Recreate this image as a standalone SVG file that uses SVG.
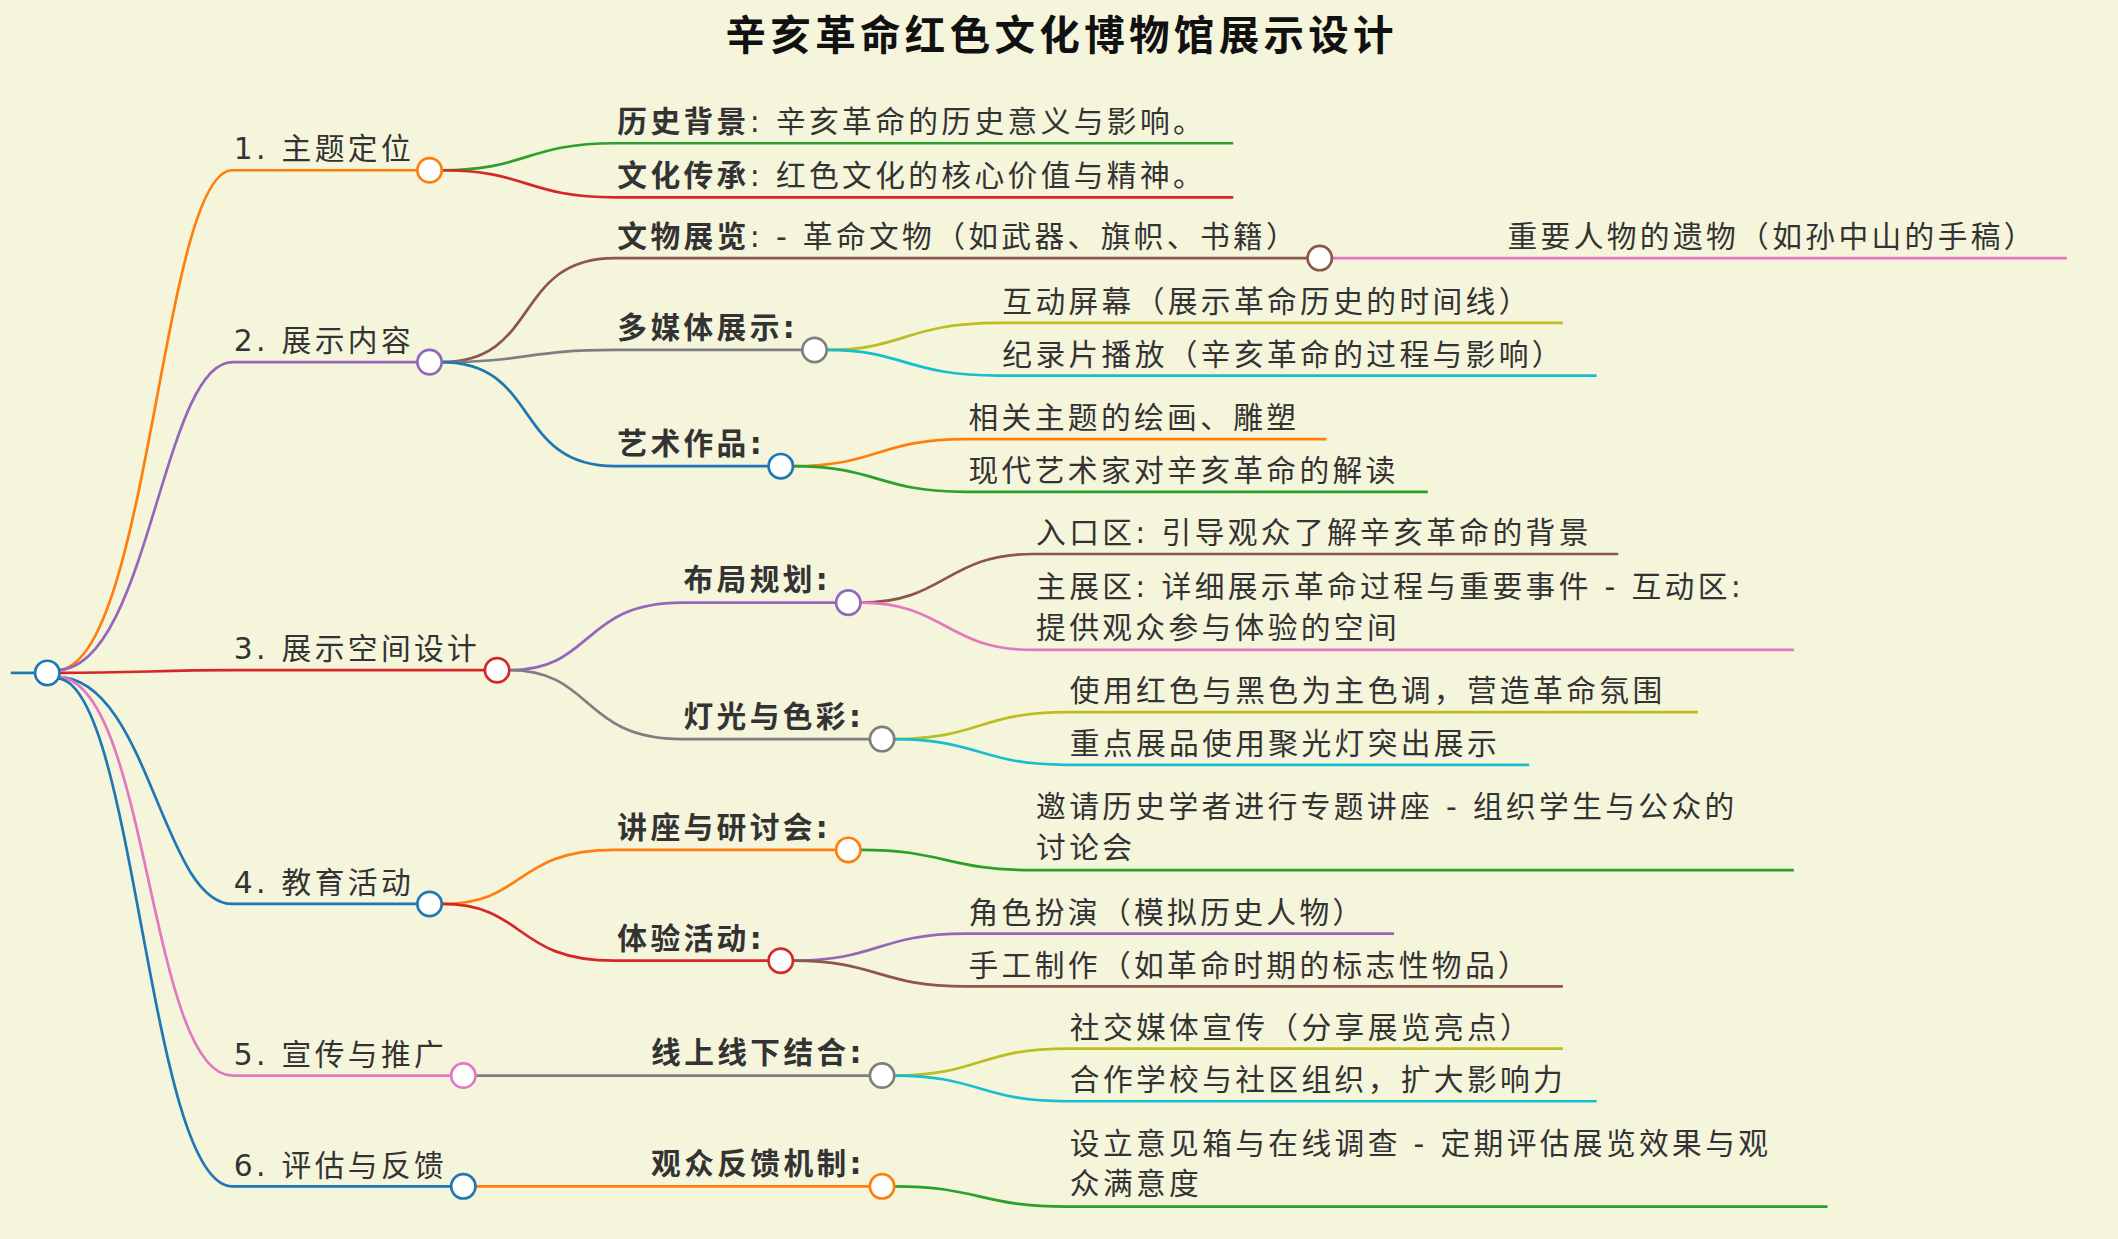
<svg xmlns="http://www.w3.org/2000/svg" width="2118" height="1239" viewBox="0 0 2118 1239">
<style>
text{font-family:"DejaVu Sans","Noto Sans CJK SC",sans-serif;font-size:22px;fill:#333;letter-spacing:2.5px}
.b{font-weight:bold}
.t{font-size:30px;font-weight:bold;fill:#111;letter-spacing:3.2px}
path,line{fill:none;stroke-width:2}
circle{fill:#fff;stroke-width:2}
.o{stroke:#ff7f0e}.p{stroke:#9467bd}.r{stroke:#d62728}.bl{stroke:#1f77b4}.pk{stroke:#e377c2}.g{stroke:#2ca02c}.br{stroke:#8c564b}.gy{stroke:#7f7f7f}.ol{stroke:#bcbd22}.c{stroke:#17becf}
</style>
<rect width="2118" height="1239" fill="#f5f5dc"/>
<g transform="scale(1.3508,1.3512)">
<text class="t" x="786" y="37" text-anchor="middle">辛亥革命红色文化博物馆展示设计</text>
<g id="connectors">
<line class="bl" x1="8" y1="498" x2="26" y2="498"/>
<path class="o" d="M42,496 C110,496 120,126 172,126 H310"/>
<path class="p" d="M42,496 C110,496 120,268 172,268 H310"/>
<path class="r" d="M44,498 C100,498 120,496 172,496 H360"/>
<path class="bl" d="M42,501 C110,501 120,669 172,669 H310"/>
<path class="pk" d="M42,501 C110,501 110,796 172,796 H335"/>
<path class="bl" d="M42,502 C100,502 110,878 172,878 H335"/>
<path class="g" d="M327,126 C390,126 390,106 455,106 H913"/>
<path class="r" d="M327,126 C390,126 390,146 455,146 H913"/>
<path class="br" d="M327,268 C400,268 380,191 455,191 H969"/>
<path class="gy" d="M327,268 C390,268 390,259 455,259 H595"/>
<path class="bl" d="M327,268 C400,268 380,345 455,345 H570"/>
<path class="pk" d="M986,191 H1530"/>
<path class="ol" d="M612,259 C670,259 670,239 740,239 H1157"/>
<path class="c" d="M612,259 C670,259 670,278 740,278 H1182"/>
<path class="o" d="M587,345 C650,345 650,325 715,325 H982"/>
<path class="g" d="M587,345 C650,345 650,364 715,364 H1057"/>
<path class="p" d="M377,496 C440,496 430,446 505,446 H620"/>
<path class="gy" d="M377,496 C440,496 430,547 505,547 H645"/>
<path class="br" d="M637,446 C700,446 700,410 765,410 H1198"/>
<path class="pk" d="M637,446 C700,446 700,481 765,481 H1328"/>
<path class="ol" d="M662,547 C725,547 725,527 790,527 H1257"/>
<path class="c" d="M662,547 C725,547 725,566 790,566 H1132"/>
<path class="o" d="M327,669 C390,669 380,629 455,629 H620"/>
<path class="r" d="M327,669 C390,669 380,711 455,711 H570"/>
<path class="g" d="M637,629 C700,629 700,644 765,644 H1328"/>
<path class="p" d="M587,711 C650,711 650,691 715,691 H1032"/>
<path class="br" d="M587,711 C650,711 650,730 715,730 H1157"/>
<path class="gy" d="M352,796 H645"/>
<path class="ol" d="M662,796 C725,796 725,776 790,776 H1157"/>
<path class="c" d="M662,796 C725,796 725,815 790,815 H1182"/>
<path class="o" d="M352,878 H645"/>
<path class="g" d="M662,878 C725,878 725,893 790,893 H1353"/>
</g>
<g id="root"><circle class="bl" cx="35" cy="498" r="9"/></g>
<g id="n1"><text x="173" y="118">1. 主题定位</text><circle class="o" cx="318" cy="126" r="9"/></g>
<g id="n11"><text x="457" y="98"><tspan class="b">历史背景</tspan>: 辛亥革命的历史意义与影响。</text></g>
<g id="n12"><text x="457" y="138"><tspan class="b">文化传承</tspan>: 红色文化的核心价值与精神。</text></g>
<g id="n2"><text x="173" y="260">2. 展示内容</text><circle class="p" cx="318" cy="268" r="9"/></g>
<g id="n21"><text x="457" y="183"><tspan class="b">文物展览</tspan>: - 革命文物（如武器、旗帜、书籍）</text><circle class="br" cx="977" cy="191" r="9"/></g>
<g id="n211"><text x="1116" y="183">重要人物的遗物（如孙中山的手稿）</text></g>
<g id="n22"><text class="b" x="457" y="250">多媒体展示:</text><circle class="gy" cx="603" cy="259" r="9"/></g>
<g id="n221"><text x="742" y="231">互动屏幕（展示革命历史的时间线）</text></g>
<g id="n222"><text x="742" y="270">纪录片播放（辛亥革命的过程与影响）</text></g>
<g id="n23"><text class="b" x="457" y="336">艺术作品:</text><circle class="bl" cx="578" cy="345" r="9"/></g>
<g id="n231"><text x="717" y="317">相关主题的绘画、雕塑</text></g>
<g id="n232"><text x="717" y="356">现代艺术家对辛亥革命的解读</text></g>
<g id="n3"><text x="173" y="488">3. 展示空间设计</text><circle class="r" cx="368" cy="496" r="9"/></g>
<g id="n31"><text class="b" x="506" y="437">布局规划:</text><circle class="p" cx="628" cy="446" r="9"/></g>
<g id="n311"><text x="767" y="402">入口区: 引导观众了解辛亥革命的背景</text></g>
<g id="n312"><text x="767" y="442">主展区: 详细展示革命过程与重要事件 - 互动区:</text><text x="767" y="472">提供观众参与体验的空间</text></g>
<g id="n32"><text class="b" x="506" y="538">灯光与色彩:</text><circle class="gy" cx="653" cy="547" r="9"/></g>
<g id="n321"><text x="792" y="519">使用红色与黑色为主色调，营造革命氛围</text></g>
<g id="n322"><text x="792" y="558">重点展品使用聚光灯突出展示</text></g>
<g id="n4"><text x="173" y="661">4. 教育活动</text><circle class="bl" cx="318" cy="669" r="9"/></g>
<g id="n41"><text class="b" x="457" y="620">讲座与研讨会:</text><circle class="o" cx="628" cy="629" r="9"/></g>
<g id="n411"><text x="767" y="605">邀请历史学者进行专题讲座 - 组织学生与公众的</text><text x="767" y="635">讨论会</text></g>
<g id="n42"><text class="b" x="457" y="702">体验活动:</text><circle class="r" cx="578" cy="711" r="9"/></g>
<g id="n421"><text x="717" y="683">角色扮演（模拟历史人物）</text></g>
<g id="n422"><text x="717" y="722">手工制作（如革命时期的标志性物品）</text></g>
<g id="n5"><text x="173" y="788">5. 宣传与推广</text><circle class="pk" cx="343" cy="796" r="9"/></g>
<g id="n51"><text class="b" x="482" y="787">线上线下结合:</text><circle class="gy" cx="653" cy="796" r="9"/></g>
<g id="n511"><text x="792" y="768">社交媒体宣传（分享展览亮点）</text></g>
<g id="n512"><text x="792" y="807">合作学校与社区组织，扩大影响力</text></g>
<g id="n6"><text x="173" y="870">6. 评估与反馈</text><circle class="bl" cx="343" cy="878" r="9"/></g>
<g id="n61"><text class="b" x="482" y="869">观众反馈机制:</text><circle class="o" cx="653" cy="878" r="9"/></g>
<g id="n611"><text x="792" y="854">设立意见箱与在线调查 - 定期评估展览效果与观</text><text x="792" y="884">众满意度</text></g>
</g>
</svg>
